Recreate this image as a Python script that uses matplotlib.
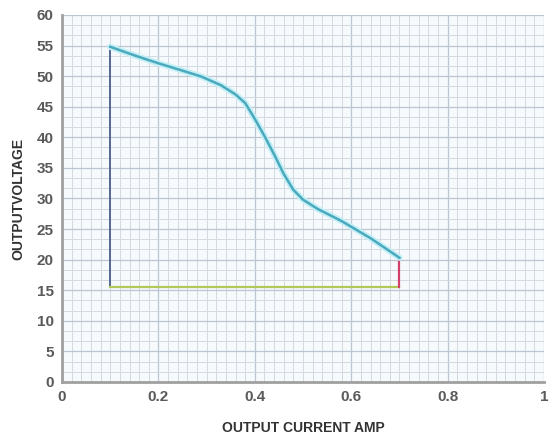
import matplotlib.pyplot as plt
from matplotlib.ticker import MultipleLocator

# curve
curve_x = [0.10, 0.15, 0.20, 0.25, 0.29, 0.33, 0.36, 0.38, 0.40, 0.42, 0.44, 0.46, 0.48, 0.50, 0.53, 0.58, 0.64, 0.70]
curve_y = [54.8, 53.4, 52.1, 50.9, 49.9, 48.5, 47.0, 45.6, 43.0, 40.2, 37.2, 34.0, 31.4, 29.8, 28.3, 26.3, 23.5, 20.3]

left_x = [0.1, 0.1]
left_y = [15.5, 54.8]
bottom_x = [0.1, 0.7]
bottom_y = [15.5, 15.5]
right_x = [0.7, 0.7]
right_y = [15.5, 20.3]

x_ticks = [0, 0.2, 0.4, 0.6, 0.8, 1]
x_labels = ["0", "0.2", "0.4", "0.6", "0.8", "1"]
y_ticks = list(range(0, 61, 5))

plt.rcParams["font.family"] = ["Liberation Sans", "DejaVu Sans"]

fig = plt.figure(figsize=(5.49, 4.41), dpi=100)
ax = fig.add_axes([0.113, 0.134, 0.878, 0.832])
ax.set_facecolor("#f7fafd")

ax.set_xlim(0, 1)
ax.set_ylim(0, 60)
ax.set_xticks(x_ticks)
ax.set_xticklabels(x_labels)
ax.set_yticks(y_ticks)
ax.xaxis.set_minor_locator(MultipleLocator(0.02))
ax.yaxis.set_minor_locator(MultipleLocator(5 / 3))
ax.grid(which="major", color="#bcc6d0", linewidth=0.9)
ax.grid(which="minor", color="#d2dae2", linewidth=0.7)
ax.set_axisbelow(True)
ax.tick_params(which="both", length=0, pad=6, labelsize=11, labelcolor="#5a5a5a")
for lab in ax.get_xticklabels() + ax.get_yticklabels():
    lab.set_fontweight("bold")

for side in ["top", "right"]:
    ax.spines[side].set_visible(False)
for side in ["left", "bottom"]:
    ax.spines[side].set_color("#a0a0a0")
    ax.spines[side].set_linewidth(2)

# boundary lines
ax.plot(left_x, left_y, color="#4a5f8a", linewidth=1.3)
ax.plot(bottom_x, bottom_y, color="#b2c95a", linewidth=1.6)
ax.plot(right_x, right_y, color="#d0406a", linewidth=1.6)
# glow + curve
ax.plot(curve_x, curve_y, color="#c4eff6", linewidth=4.5, solid_capstyle="round", solid_joinstyle="round")
ax.plot(curve_x, curve_y, color="#4aa9bd", linewidth=1.8, solid_joinstyle="round")

ax.set_xlabel("OUTPUT CURRENT AMP", fontsize=10, fontweight="bold", color="#333333", labelpad=12)
ax.set_ylabel("OUTPUTVOLTAGE", fontsize=10, fontweight="bold", color="#333333", labelpad=8)

fig.savefig("out.png", dpi=100)
